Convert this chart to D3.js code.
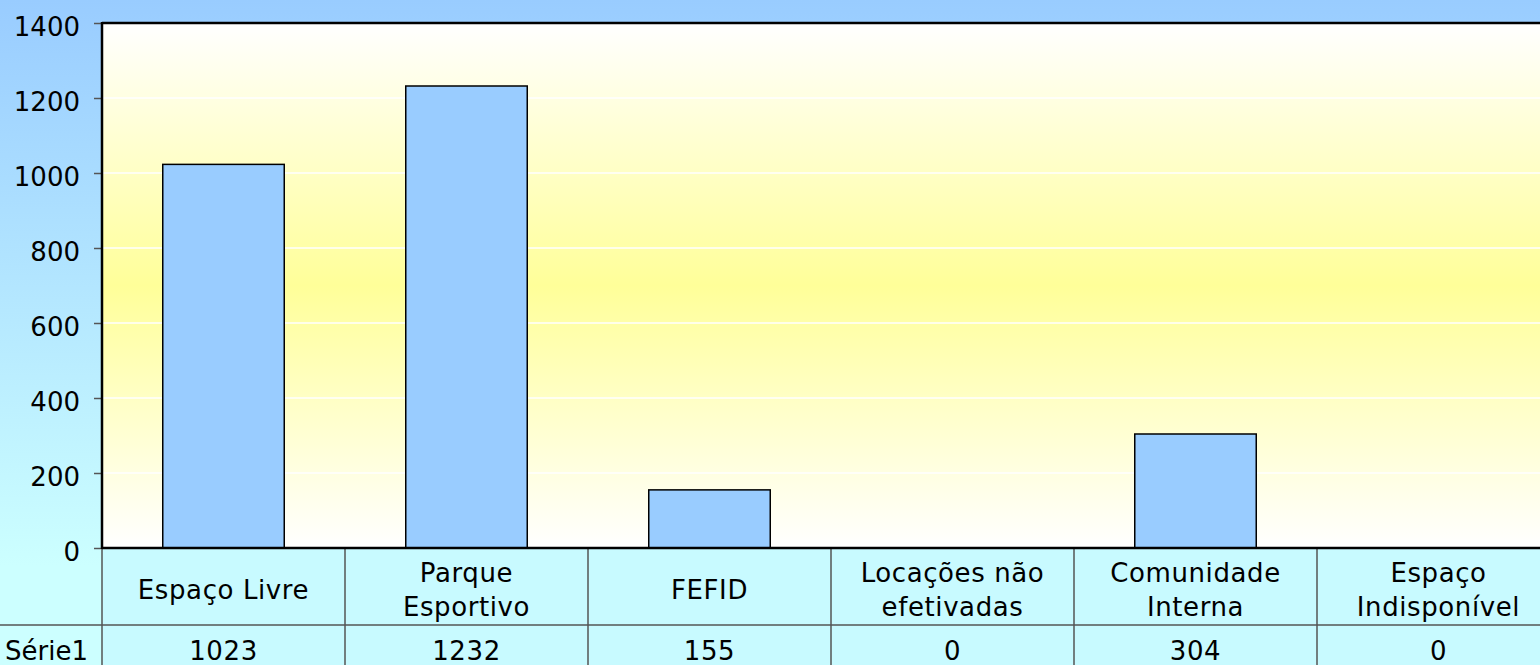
<!DOCTYPE html>
<html>
<head>
<meta charset="utf-8">
<script src="https://cdn.jsdelivr.net/npm/d3@7"></script>
<style>
    html, body { margin: 0; padding: 0; overflow: hidden; }
    text { font-family: 'DejaVu Sans', Verdana, sans-serif; font-size: 26px; fill: #000; }
    .cat text, .vals text { letter-spacing: 0.6px; }
</style>
</head>
<body>
<div id="container"></div>
<script>
// data
const categories = ['Espaço Livre', 'Parque\nEsportivo', 'FEFID', 'Locações não\nefetivadas', 'Comunidade\nInterna', 'Espaço\nIndisponível'];
const seriesName = 'Série1';
const values = [1023, 1232, 155, 0, 304, 0];
const yTicks = [0, 200, 400, 600, 800, 1000, 1200, 1400];

window.onload = function() {
    'use strict';

    const canvas = {
        width: 1540,
        height: 665
    }

    const plot = {
        left: 102,
        top: 23,
        bottom: 548,
        colWidth: 243
    }

    const table = {
        row1: 625,
        row2: 702
    }

    const color = {
        bgTop: '#99CCFF',
        bgBottom: '#CCFFFF',
        plotEdge: '#FFFFFF',
        plotMid: '#FFFF99',
        bar: '#99CCFF',
        cell: '#C8FAFF',
        tableLine: '#555555',
        grid: '#FFFFFF'
    }

    const svg = d3.select('#container')
        .append('svg')
        .attr('width', canvas.width)
        .attr('height', canvas.height);

    const defs = svg.append('defs');

    const bgGrad = defs.append('linearGradient')
        .attr('id', 'bgGrad')
        .attr('x1', 0).attr('y1', 0).attr('x2', 0).attr('y2', 1);
    bgGrad.append('stop').attr('offset', '0%').attr('stop-color', color.bgTop);
    bgGrad.append('stop').attr('offset', '85%').attr('stop-color', color.bgBottom);
    bgGrad.append('stop').attr('offset', '100%').attr('stop-color', color.bgBottom);

    const plotGrad = defs.append('linearGradient')
        .attr('id', 'plotGrad')
        .attr('x1', 0).attr('y1', 0).attr('x2', 0).attr('y2', 1);
    plotGrad.append('stop').attr('offset', '0%').attr('stop-color', color.plotEdge);
    plotGrad.append('stop').attr('offset', '50%').attr('stop-color', color.plotMid);
    plotGrad.append('stop').attr('offset', '100%').attr('stop-color', color.plotEdge);

    // scales
    const x = d3.scaleBand()
        .domain(categories)
        .range([plot.left, plot.left + plot.colWidth * categories.length])
        .paddingInner(0)
        .paddingOuter(0);

    const y = d3.scaleLinear()
        .domain([0, 1400])
        .range([plot.bottom, plot.top]);

    // background
    svg.append('rect')
        .attr('width', canvas.width)
        .attr('height', canvas.height)
        .attr('fill', 'url(#bgGrad)');

    svg.append('rect')
        .attr('x', plot.left)
        .attr('y', plot.top)
        .attr('width', canvas.width - plot.left)
        .attr('height', plot.bottom - plot.top)
        .attr('fill', 'url(#plotGrad)');

    // gridlines
    svg.append('g')
        .selectAll('line')
        .data(yTicks.filter(d => d > 0 && d < 1400))
        .join('line')
        .attr('x1', plot.left)
        .attr('x2', canvas.width)
        .attr('y1', d => y(d))
        .attr('y2', d => y(d))
        .attr('stroke', color.grid)
        .attr('stroke-width', 1.5);

    // bars
    const barW = x.bandwidth() * 0.5;
    svg.append('g')
        .selectAll('rect')
        .data(values.map((v, i) => ({ cat: categories[i], v: v })).filter(d => d.v > 0))
        .join('rect')
        .attr('x', d => x(d.cat) + (x.bandwidth() - barW) / 2)
        .attr('y', d => y(d.v))
        .attr('width', barW)
        .attr('height', d => y(0) - y(d.v))
        .attr('fill', color.bar)
        .attr('stroke', '#000')
        .attr('stroke-width', 1.5);

    // data table
    svg.append('rect')
        .attr('x', plot.left)
        .attr('y', plot.bottom)
        .attr('width', canvas.width - plot.left)
        .attr('height', table.row2 - plot.bottom)
        .attr('fill', color.cell);

    svg.append('line')
        .attr('x1', 0)
        .attr('x2', canvas.width)
        .attr('y1', table.row1)
        .attr('y2', table.row1)
        .attr('stroke', color.tableLine)
        .attr('stroke-width', 1.5);

    svg.append('g')
        .selectAll('line')
        .data(categories)
        .join('line')
        .attr('x1', d => x(d))
        .attr('x2', d => x(d))
        .attr('y1', plot.bottom)
        .attr('y2', table.row2)
        .attr('stroke', color.tableLine)
        .attr('stroke-width', 1.5);

    // category labels
    const labels = svg.append('g')
        .attr('class', 'cat')
        .selectAll('text')
        .data(categories)
        .join('text')
        .attr('text-anchor', 'middle')
        .attr('x', d => x(d) + x.bandwidth() / 2);

    labels.each(function(d) {
        const lines = d.split('\n');
        const t = d3.select(this);
        const lineH = 34;
        const mid = (plot.bottom + table.row1) / 2 + 12.5;
        lines.forEach((l, i) => {
            t.append('tspan')
                .attr('x', x(d) + x.bandwidth() / 2)
                .attr('y', mid + (i - (lines.length - 1) / 2) * lineH)
                .text(l);
        });
    });

    // values row
    svg.append('text')
        .attr('x', 88)
        .attr('y', 660)
        .attr('text-anchor', 'end')
        .text(seriesName);

    svg.append('g')
        .attr('class', 'vals')
        .selectAll('text')
        .data(values)
        .join('text')
        .attr('text-anchor', 'middle')
        .attr('x', (d, i) => x(categories[i]) + x.bandwidth() / 2)
        .attr('y', 660)
        .text(d => d);

    // y axis
    const yAxis = svg.append('g')
        .attr('transform', `translate(${plot.left},0)`)
        .call(d3.axisLeft(y).tickValues(yTicks).tickSize(8).tickPadding(14).tickFormat(d3.format('d')));

    yAxis.select('.domain').remove();
    yAxis.selectAll('.tick line').attr('stroke', color.tableLine).attr('stroke-width', 1.5);
    yAxis.selectAll('.tick text')
        .attr('dy', null)
        .attr('y', 12)
        .style('font-family', "'DejaVu Sans', Verdana, sans-serif")
        .style('font-size', '26px')
        .attr('fill', '#000');

    // plot borders
    svg.append('line')
        .attr('x1', plot.left).attr('x2', plot.left)
        .attr('y1', plot.top - 1).attr('y2', plot.bottom + 1)
        .attr('stroke', '#000').attr('stroke-width', 2.5);

    svg.append('line')
        .attr('x1', plot.left).attr('x2', canvas.width)
        .attr('y1', plot.top).attr('y2', plot.top)
        .attr('stroke', '#000').attr('stroke-width', 2.5);

    svg.append('line')
        .attr('x1', plot.left).attr('x2', canvas.width)
        .attr('y1', plot.bottom).attr('y2', plot.bottom)
        .attr('stroke', '#000').attr('stroke-width', 2.5);
}
</script>
</body>
</html>
